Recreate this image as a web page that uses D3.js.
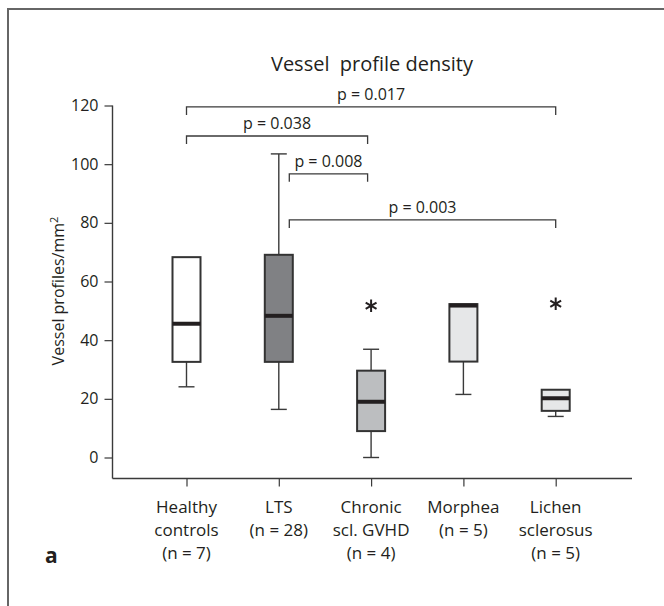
<!DOCTYPE html>
<html>
<head>
<meta charset="utf-8">
<script src="https://cdn.jsdelivr.net/npm/d3@7"></script>
<style>
  body { margin: 0; background: #fff; }
  svg text { font-family: "Open Sans", "Liberation Sans", Arial, sans-serif; fill: #231f20; }
</style>
</head>
<body>
<div id="chart-area"></div>
<script>
// groups and their axis labels
var groups = ['Healthy', 'LTS', 'Chronic', 'Morphea', 'Lichen'];
var groupLabels = [
	['Healthy', 'controls', '(n = 7)'],
	['LTS', '(n = 28)'],
	['Chronic', 'scl. GVHD', '(n = 4)'],
	['Morphea', '(n = 5)'],
	['Lichen', 'sclerosus', '(n = 5)']
];

// box plot values
var lowWhisker = [24.1, 16.4, 0, 21.5, 14.0];
var q1 = [32.6, 32.6, 9.0, 32.7, 15.9];
var median = [45.6, 48.3, 19.0, 51.8, 20.2];
var q3 = [68.3, 69.1, 29.6, 52.3, 23.1];
var highWhisker = [68.3, 103.5, 36.9, 52.3, 23.1];
var outliers = [null, null, 51.7, null, 52.4];
var boxFill = ['#ffffff', '#808184', '#bcbec0', '#e6e7e8', '#e6e7e8'];

// significance brackets
var bracketFrom = ['Healthy', 'Healthy', 'LTS', 'LTS'];
var bracketTo = ['Lichen', 'Chronic', 'Chronic', 'Lichen'];
var bracketLevel = [119.5, 109.6, 96.7, 81.0];
var bracketText = ['p = 0.017', 'p = 0.038', 'p = 0.008', 'p = 0.003'];

var yTicks = [0, 20, 40, 60, 80, 100, 120];

var W = 664, H = 606;
var svg = d3.select('#chart-area').append('svg')
	.attr('width', W)
	.attr('height', H);

// panel frame (top + left edges only)
svg.append('path')
	.attr('d', 'M8,606 L8,9 L664,9')
	.attr('fill', 'none')
	.attr('stroke', '#666')
	.attr('stroke-width', 2);

var x = d3.scalePoint().domain(groups).range([186.5, 555.7]);
var y = d3.scaleLinear().domain([0, 120]).range([457.5, 105.5]);
var axisLeftX = 112.5, axisBottomY = 478.5;
var boxW = 28, capW = 16;
var ink = '#3a3a3a';

// y axis
var yAxis = svg.append('g')
	.attr('transform', `translate(${axisLeftX},0)`)
	.call(d3.axisLeft(y).tickValues(yTicks).tickSize(8).tickPadding(6).tickSizeOuter(0));
yAxis.select('.domain').remove();
yAxis.selectAll('line').attr('stroke', ink).attr('stroke-width', 1.2);
yAxis.selectAll('text').attr('font-size', '16px').attr('fill', '#231f20')
	.style('font-family', '"Open Sans", "Liberation Sans", Arial, sans-serif');

svg.append('line')
	.attr('x1', axisLeftX).attr('x2', axisLeftX)
	.attr('y1', y(120)).attr('y2', axisBottomY)
	.attr('stroke', ink).attr('stroke-width', 1.4);

// x axis
var xAxis = svg.append('g')
	.attr('transform', `translate(0,${axisBottomY})`)
	.call(d3.axisBottom(x).tickSize(8).tickFormat(''));
xAxis.select('.domain').remove();
xAxis.selectAll('line').attr('stroke', ink).attr('stroke-width', 1.2);

svg.append('line')
	.attr('x1', axisLeftX).attr('x2', 632)
	.attr('y1', axisBottomY).attr('y2', axisBottomY)
	.attr('stroke', ink).attr('stroke-width', 1.4);

// category labels
groupLabels.forEach((lines, i) => {
	var t = svg.append('text')
		.attr('text-anchor', 'middle')
		.attr('font-size', '17px');
	lines.forEach((line, j) => {
		t.append('tspan')
			.attr('x', x(groups[i]))
			.attr('y', 513 + j * 23)
			.text(line);
	});
});

// axis title
svg.append('text')
	.attr('transform', `translate(64,291) rotate(-90)`)
	.attr('text-anchor', 'middle')
	.attr('font-size', '16px')
	.html('Vessel profiles/mm<tspan dy="-6" font-size="11px">2</tspan>');

// chart title
svg.append('text')
	.attr('x', 372)
	.attr('y', 71)
	.attr('text-anchor', 'middle')
	.attr('font-size', '20px')
	.attr('xml:space', 'preserve')
	.style('white-space', 'pre')
	.text('Vessel  profile density');

// panel letter
svg.append('text')
	.attr('x', 45)
	.attr('y', 563)
	.attr('font-size', '21px')
	.attr('font-weight', 'bold')
	.text('a');

// boxes
var box = svg.selectAll('.box').data(groups).enter().append('g').attr('class', 'box');

box.filter((d, i) => highWhisker[i] > q3[i]).append('line')
	.attr('x1', d => x(d)).attr('x2', d => x(d))
	.attr('y1', d => y(q3[groups.indexOf(d)]))
	.attr('y2', d => y(highWhisker[groups.indexOf(d)]))
	.attr('stroke', ink).attr('stroke-width', 1.4);
box.filter((d, i) => highWhisker[i] > q3[i]).append('line')
	.attr('x1', d => x(d) - capW / 2).attr('x2', d => x(d) + capW / 2)
	.attr('y1', d => y(highWhisker[groups.indexOf(d)]))
	.attr('y2', d => y(highWhisker[groups.indexOf(d)]))
	.attr('stroke', ink).attr('stroke-width', 1.4);

box.append('line')
	.attr('x1', d => x(d)).attr('x2', d => x(d))
	.attr('y1', (d, i) => y(q1[i]))
	.attr('y2', (d, i) => y(lowWhisker[i]))
	.attr('stroke', ink).attr('stroke-width', 1.4);
box.append('line')
	.attr('x1', d => x(d) - capW / 2).attr('x2', d => x(d) + capW / 2)
	.attr('y1', (d, i) => y(lowWhisker[i]))
	.attr('y2', (d, i) => y(lowWhisker[i]))
	.attr('stroke', ink).attr('stroke-width', 1.4);

box.append('rect')
	.attr('x', d => x(d) - boxW / 2)
	.attr('width', boxW)
	.attr('y', (d, i) => y(q3[i]))
	.attr('height', (d, i) => y(q1[i]) - y(q3[i]))
	.attr('fill', (d, i) => boxFill[i])
	.attr('stroke', '#333')
	.attr('stroke-width', 2);

box.append('line')
	.attr('x1', d => x(d) - boxW / 2).attr('x2', d => x(d) + boxW / 2)
	.attr('y1', (d, i) => y(median[i]))
	.attr('y2', (d, i) => y(median[i]))
	.attr('stroke', '#231f20').attr('stroke-width', 4);

// outliers drawn as asterisks
var star = d3.symbolAsterisk ? d3.symbol().type(d3.symbolAsterisk).size(110) : null;
groups.forEach((g, i) => {
	if (outliers[i] == null) return;
	if (star) {
		svg.append('path')
			.attr('transform', `translate(${x(g)},${y(outliers[i])})`)
			.attr('d', star())
			.attr('fill', 'none')
			.attr('stroke', '#231f20')
			.attr('stroke-width', 2);
	} else {
		svg.append('text')
			.attr('x', x(g)).attr('y', y(outliers[i]) + 14)
			.attr('text-anchor', 'middle')
			.attr('font-size', '26px')
			.text('*');
	}
});

// significance brackets
var insetLeft = { LTS: 10.5 };
var insetRight = { Chronic: -3.5 };
bracketText.forEach((label, i) => {
	var x1 = x(bracketFrom[i]) + (insetLeft[bracketFrom[i]] || 0);
	var x2 = x(bracketTo[i]) + (insetRight[bracketTo[i]] || 0);
	var yy = y(bracketLevel[i]);
	svg.append('path')
		.attr('d', `M${x1},${yy + 8} L${x1},${yy} L${x2},${yy} L${x2},${yy + 8}`)
		.attr('fill', 'none')
		.attr('stroke', ink)
		.attr('stroke-width', 1.3);
	svg.append('text')
		.attr('x', (x1 + x2) / 2)
		.attr('y', yy - 7)
		.attr('text-anchor', 'middle')
		.attr('font-size', '16px')
		.text(label);
});
</script>
</body>
</html>
